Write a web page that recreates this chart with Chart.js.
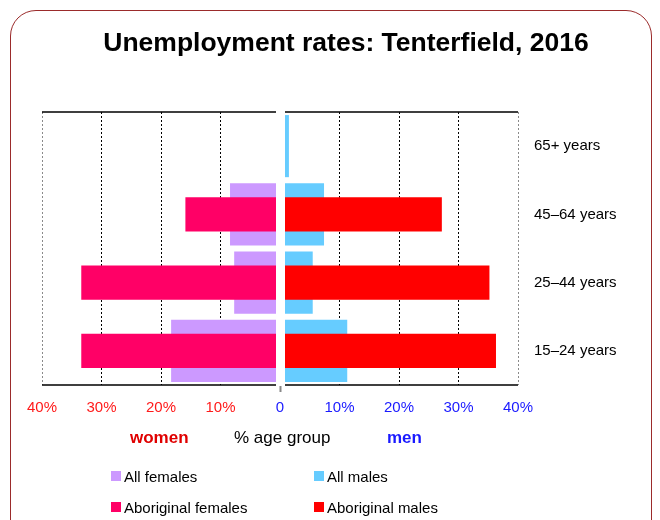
<!DOCTYPE html>
<html>
<head>
<meta charset="utf-8">
<script src="https://cdn.jsdelivr.net/npm/chart.js@4.4.1/dist/chart.umd.min.js"></script>
<style>
  html, body { margin: 0; padding: 0; background: #fff; }
  body { width: 660px; height: 520px; position: relative; overflow: hidden; font-family: "Liberation Sans", Arial, sans-serif; }
  #frame { position: absolute; left: 10px; top: 10px; width: 642px; height: 540px; border: 1.5px solid #9B2B2B; border-radius: 26px; box-sizing: border-box; }
  #wrap { position: absolute; left: 0; top: 0; width: 660px; height: 520px; }
  .t { position: absolute; white-space: nowrap; line-height: 1; }
  #title { left: 0; width: 692px; text-align: center; top: 29px; font-size: 26.5px; font-weight: bold; color: #000; }
  .lg { position: absolute; font-size: 15px; color: #000; white-space: nowrap; line-height: 1; }
  .sw { position: absolute; width: 10px; height: 10px; }
</style>
</head>
<body>
<div id="frame"></div>
<div id="wrap"><canvas id="c" width="660" height="520"></canvas></div>
<div class="t" id="title">Unemployment rates: Tenterfield, 2016</div>
<div class="t" style="left:130px; top:429px; font-size:17px; font-weight:bold; color:#E00000;">women</div>
<div class="t" style="left:234px; top:429px; font-size:17px; color:#000;">% age group</div>
<div class="t" style="left:387px; top:429px; font-size:17px; font-weight:bold; color:#1A1AFF;">men</div>

<div class="sw" style="left:111px; top:471px; background:#CC99FF;"></div>
<div class="lg" style="left:124px; top:469px;">All females</div>
<div class="sw" style="left:314px; top:471px; background:#66CCFF;"></div>
<div class="lg" style="left:327px; top:469px;">All males</div>
<div class="sw" style="left:111px; top:502px; background:#FF0066;"></div>
<div class="lg" style="left:124px; top:500px;">Aboriginal females</div>
<div class="sw" style="left:314px; top:502px; background:#FF0000;"></div>
<div class="lg" style="left:327px; top:500px;">Aboriginal males</div>

<script>
const ageGroups = ["65+ years", "45–64 years", "25–44 years", "15–24 years"];
const allFemales = [0, 8.4, 7.7, 18.3];
const aboriginalFemales = [0, 15.9, 33.4, 33.4];
const allMales = [1.5, 7.4, 5.5, 11.3];
const aboriginalMales = [0, 27.2, 35.2, 36.3];
const xTicks = [-40, -30, -20, -10, 0, 10, 20, 30, 40];

const centerGap = {
  id: 'centerGap',
  afterDatasetsDraw(chart) {
    const ctx = chart.ctx, a = chart.chartArea, x0 = chart.scales.x.getPixelForValue(0);
    ctx.save();
    ctx.fillStyle = '#fff';
    ctx.fillRect(x0 - 4, a.top - 2, 9, a.bottom - a.top + 4);
    ctx.strokeStyle = '#000';
    ctx.lineWidth = 1.5;
    ctx.beginPath();
    [a.top, a.bottom].forEach(y => {
      ctx.moveTo(a.left, y); ctx.lineTo(x0 - 4, y);
      ctx.moveTo(x0 + 5, y); ctx.lineTo(a.right, y);
    });
    ctx.stroke();
    ctx.fillStyle = '#888';
    ctx.fillRect(x0 - 0.5, a.bottom + 1, 2, 6);
    ctx.restore();
  }
};

new Chart(document.getElementById('c'), {
  type: 'bar',
  data: {
    labels: ageGroups,
    datasets: [
      { label: 'All females', data: allFemales.map(v => -v), backgroundColor: '#CC99FF', barPercentage: 0.91, categoryPercentage: 1, grouped: false, order: 2 },
      { label: 'All males', data: allMales, backgroundColor: '#66CCFF', barPercentage: 0.91, categoryPercentage: 1, grouped: false, order: 2 },
      { label: 'Aboriginal females', data: aboriginalFemales.map(v => -v), backgroundColor: '#FF0066', barPercentage: 0.5, categoryPercentage: 1, grouped: false, order: 1 },
      { label: 'Aboriginal males', data: aboriginalMales, backgroundColor: '#FF0000', barPercentage: 0.5, categoryPercentage: 1, grouped: false, order: 1 }
    ]
  },
  options: {
    indexAxis: 'y',
    responsive: false,
    animation: false,
    devicePixelRatio: 1,
    layout: { padding: { left: 42, right: 0, top: 112, bottom: 105 } },
    plugins: { legend: { display: false }, tooltip: { enabled: false }, title: { display: false } },
    scales: {
      x: {
        type: 'linear', min: -40, max: 40,
        afterBuildTicks(s) { s.ticks = xTicks.map(v => ({ value: v })); },
        afterFit(s) { s.height = 30; },
        border: { display: false, dash: [2, 2] },
        grid: {
          drawTicks: false,
          lineWidth: 1,
          color: c => c.tick && c.tick.value === 0 ? 'rgba(0,0,0,0)' : (Math.abs(c.tick ? c.tick.value : 0) === 40 ? '#8a8a8a' : '#000'),
          borderDash: [2, 2]
        },
        ticks: {
          padding: 14,
          font: { family: '"Liberation Sans", Arial, sans-serif', size: 15 },
          color: c => c.tick.value < 0 ? '#FF1A1A' : '#1A1AFF',
          callback: v => v === 0 ? '0' : Math.abs(v) + '%'
        }
      },
      y: {
        position: 'right',
        afterFit(s) { s.width = 142; },
        border: { display: false },
        grid: { display: false, drawTicks: false },
        ticks: {
          padding: 16,
          color: '#000',
          font: { family: '"Liberation Sans", Arial, sans-serif', size: 15 }
        }
      }
    }
  },
  plugins: [centerGap]
});
</script>
</body>
</html>
